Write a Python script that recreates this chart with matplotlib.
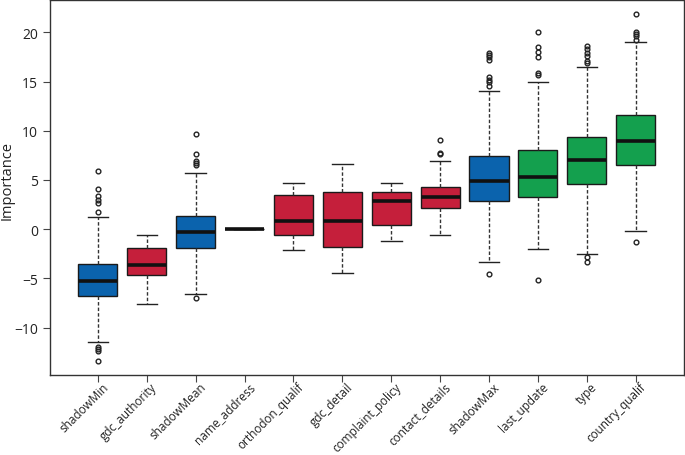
import matplotlib
matplotlib.use('Agg')
import matplotlib.pyplot as plt
from matplotlib.transforms import ScaledTranslation

plt.rcParams['font.family'] = ['Open Sans', 'DejaVu Sans']

# feature names, sorted by median importance
labels = ['shadowMin', 'gdc_authority', 'shadowMean', 'name_address', 'orthodon_qualif',
          'gdc_detail', 'complaint_policy', 'contact_details', 'shadowMax', 'last_update',
          'type', 'country_qualif']
# Boruta decision: shadow / rejected / confirmed
status = ['shadow', 'rejected', 'shadow', 'rejected', 'rejected', 'rejected', 'rejected',
          'rejected', 'shadow', 'confirmed', 'confirmed', 'confirmed']

q1 = [-6.83, -4.70, -1.93, 0.0, -0.60, -1.86, 0.38, 2.10, 2.81, 3.22, 4.60, 6.53]
med = [-5.27, -3.65, -0.27, 0.0, 0.81, 0.81, 2.81, 3.25, 4.91, 5.27, 7.07, 9.00]
q3 = [-3.50, -1.96, 1.29, 0.0, 3.52, 3.79, 3.79, 4.30, 7.47, 8.08, 9.40, 11.56]
whislo = [-11.5, -7.57, -6.59, 0.0, -2.16, -4.46, -1.22, -0.64, -3.35, -1.99, -2.57, -0.23]
whishi = [1.19, -0.57, 5.68, 0.0, 4.70, 6.59, 4.70, 6.97, 14.07, 14.98, 16.47, 19.00]
fliers = [
    [5.88, 4.03, 3.35, 3.00, 2.68, 1.76, -11.97, -12.2, -12.43, -13.4],
    [],
    [9.67, 7.64, 6.97, 6.73, 6.49, -7.0],
    [],
    [],
    [],
    [],
    [9.10, 7.78, 7.65],
    [17.95, 17.72, 17.48, 17.21, 15.46, 15.21, 14.98, 14.54, -4.6],
    [20.05, 18.53, 17.99, 17.52, 15.92, 15.66, -5.2],
    [18.63, 18.30, 17.95, 17.62, 17.11, 16.87, -2.8, -3.35],
    [21.88, 20.05, 19.85, 19.65, 19.24, -1.35],
]

colors = {'shadow': '#0b63ad', 'rejected': '#c51f3b', 'confirmed': '#14a04e'}

stats = []
for i in range(len(labels)):
    stats.append({'label': labels[i], 'q1': q1[i], 'med': med[i], 'q3': q3[i],
                  'whislo': whislo[i], 'whishi': whishi[i], 'fliers': fliers[i]})

fig = plt.figure(figsize=(6.85, 4.56), dpi=100)
ax = fig.add_axes([0.073, 0.176, 0.925, 0.822])

bp = ax.bxp(stats, widths=0.8, capwidths=0.42, patch_artist=True,
            boxprops=dict(edgecolor='#1a1a1a', linewidth=1.0),
            medianprops=dict(color='#111111', linewidth=2.6, solid_capstyle='butt'),
            whiskerprops=dict(color='#333333', linewidth=1.0, linestyle=(0, (2.5, 1.5))),
            capprops=dict(color='#222222', linewidth=1.0),
            flierprops=dict(marker='o', markersize=3.4, markerfacecolor='none',
                            markeredgecolor='#222222', markeredgewidth=1.0))
for patch, s in zip(bp['boxes'], status):
    patch.set_facecolor(colors[s])

ax.set_xlim(0.02, 12.98)
ax.set_ylim(-14.8, 23.3)
ax.set_yticks([-10, -5, 0, 5, 10, 15, 20])
ax.set_ylabel('Importance', fontsize=10.5, color='#222222')
ax.yaxis.set_label_coords(-0.056, 0.52)
ax.tick_params(axis='y', labelsize=10, length=5, colors='#444444', labelcolor='#222222')
ax.tick_params(axis='x', length=5, pad=2, colors='#444444', labelcolor='#222222')
ax.set_xticklabels(labels, rotation=45, ha='right', va='center',
                   rotation_mode='anchor', fontsize=8.5)
shift = ScaledTranslation(6 / 72, 0, fig.dpi_scale_trans)
for lab in ax.get_xticklabels():
    lab.set_transform(lab.get_transform() + shift)
for sp in ax.spines.values():
    sp.set_color('#333333')
    sp.set_linewidth(1.0)

plt.savefig('out.png', dpi=100)
